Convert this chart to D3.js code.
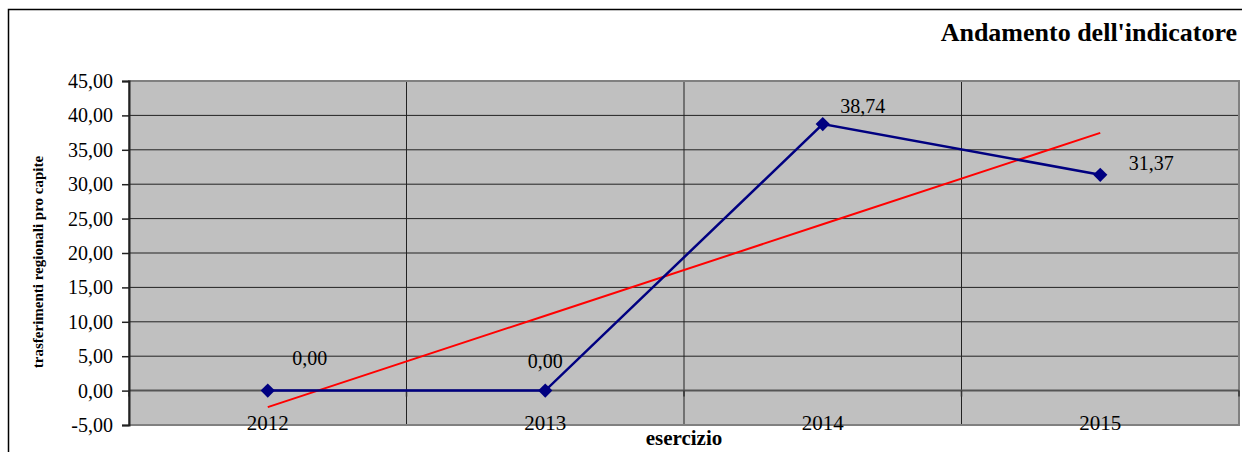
<!DOCTYPE html>
<html>
<head>
<meta charset="utf-8">
<script src="https://cdn.jsdelivr.net/npm/d3@7"></script>
<style>
  body { margin: 0; background: #fff; }
  svg { display: block; }
  svg text { font-family: "Liberation Serif", "Times New Roman", serif; }
</style>
</head>
<body>
<svg id="chart" width="1242" height="452"></svg>
<script>
const years = ['2012', '2013', '2014', '2015'];
const values = [0, 0, 38.74, 31.37];
const yTicks = [-5, 0, 5, 10, 15, 20, 25, 30, 35, 40, 45];
const labelOffsets = [[42, -26], [0, -23], [40, -11], [51, -5]];

const fmt = v => d3.format('.2f')(v).replace('.', ',').replace('\u2212', '-');

const svg = d3.select('#chart');
const plot = { left: 129, top: 81, right: 1239, bottom: 425 };

// outer frame
svg.append('rect')
  .attr('x', 8.5).attr('y', 9.5)
  .attr('width', 1260).attr('height', 470)
  .attr('fill', '#fff').attr('stroke', '#000').attr('stroke-width', 1.5);

const x = d3.scaleBand().domain(years).range([plot.left, plot.right]);
const y = d3.scaleLinear().domain([-5, 45]).range([plot.bottom, plot.top]);

svg.append('rect')
  .attr('x', plot.left).attr('y', plot.top)
  .attr('width', plot.right - plot.left).attr('height', plot.bottom - plot.top)
  .attr('fill', '#c0c0c0');

// horizontal grid
svg.append('g')
  .selectAll('line')
  .data(yTicks.filter(d => d !== -5 && d !== 45 && d !== 0))
  .join('line')
  .attr('x1', plot.left).attr('x2', plot.right)
  .attr('y1', d => y(d)).attr('y2', d => y(d))
  .attr('stroke', '#222').attr('stroke-width', 1);

// vertical grid at band boundaries
svg.append('g')
  .selectAll('line')
  .data(years.slice(1))
  .join('line')
  .attr('x1', d => x(d)).attr('x2', d => x(d))
  .attr('y1', plot.top).attr('y2', plot.bottom)
  .attr('stroke', '#222').attr('stroke-width', 1);

// plot border
svg.append('rect')
  .attr('x', plot.left).attr('y', plot.top)
  .attr('width', plot.right - plot.left).attr('height', plot.bottom - plot.top)
  .attr('fill', 'none').attr('stroke', '#808080').attr('stroke-width', 2);

// category axis at zero
const xAxis = svg.append('g').attr('transform', `translate(0,${y(0)})`);
xAxis.append('line')
  .attr('x1', plot.left).attr('x2', plot.right)
  .attr('stroke', '#555').attr('stroke-width', 2);
xAxis.selectAll('line.tick')
  .data(years.concat(['end']))
  .join('line')
  .attr('class', 'tick')
  .attr('x1', d => d === 'end' ? plot.right : x(d))
  .attr('x2', d => d === 'end' ? plot.right : x(d))
  .attr('y1', 0).attr('y2', 6)
  .attr('stroke', '#333').attr('stroke-width', 1.5);
svg.append('g')
  .selectAll('text')
  .data(years)
  .join('text')
  .attr('x', d => x(d) + x.bandwidth() / 2)
  .attr('y', 430)
  .attr('text-anchor', 'middle')
  .attr('font-size', 21)
  .text(d => d);

// value axis
const yAxis = svg.append('g').attr('transform', `translate(${plot.left},0)`)
  .call(d3.axisLeft(y).tickValues(yTicks).tickSize(7).tickPadding(9).tickFormat(fmt));
yAxis.attr('font-family', null);
yAxis.select('.domain').attr('stroke', '#222').attr('stroke-width', 2);
yAxis.selectAll('.tick line').attr('stroke', '#222').attr('stroke-width', 1.5);
yAxis.selectAll('.tick text')
  .attr('font-size', 20).attr('fill', '#000');

// trend line (linear regression on the series)
const xs = values.map((_, i) => i + 1);
const mx = d3.mean(xs), my = d3.mean(values);
const slope = d3.sum(xs, (xi, i) => (xi - mx) * (values[i] - my)) / d3.sum(xs, xi => (xi - mx) ** 2);
const trend = xs.map(xi => my + slope * (xi - mx));

const cx = d => x(d) + x.bandwidth() / 2;
svg.append('path')
  .datum(trend)
  .attr('fill', 'none').attr('stroke', '#ff0000').attr('stroke-width', 2)
  .attr('d', d3.line().x((d, i) => cx(years[i])).y(d => y(d)));

// series
svg.append('path')
  .datum(values)
  .attr('fill', 'none').attr('stroke', '#000080').attr('stroke-width', 2.5)
  .attr('d', d3.line().x((d, i) => cx(years[i])).y(d => y(d)));

svg.append('g')
  .selectAll('path')
  .data(values)
  .join('path')
  .attr('transform', (d, i) => `translate(${cx(years[i])},${y(d)})`)
  .attr('d', d3.symbol(d3.symbolDiamond2, 130))
  .attr('fill', '#000080');

svg.append('g')
  .selectAll('text')
  .data(values)
  .join('text')
  .attr('x', (d, i) => cx(years[i]) + labelOffsets[i][0])
  .attr('y', (d, i) => y(d) + labelOffsets[i][1])
  .attr('text-anchor', 'middle')
  .attr('font-size', 20)
  .text(d => fmt(d));

// titles
svg.append('text')
  .attr('x', 1237).attr('y', 41)
  .attr('text-anchor', 'end')
  .attr('font-size', 26).attr('font-weight', 'bold')
  .text("Andamento dell'indicatore");

svg.append('text')
  .attr('x', 684).attr('y', 445)
  .attr('text-anchor', 'middle')
  .attr('font-size', 21).attr('font-weight', 'bold')
  .text('esercizio');

svg.append('text')
  .attr('transform', 'translate(43,262) rotate(-90)')
  .attr('text-anchor', 'middle')
  .attr('font-size', 15).attr('font-weight', 'bold')
  .text('trasferimenti regionali pro capite');
</script>
</body>
</html>
